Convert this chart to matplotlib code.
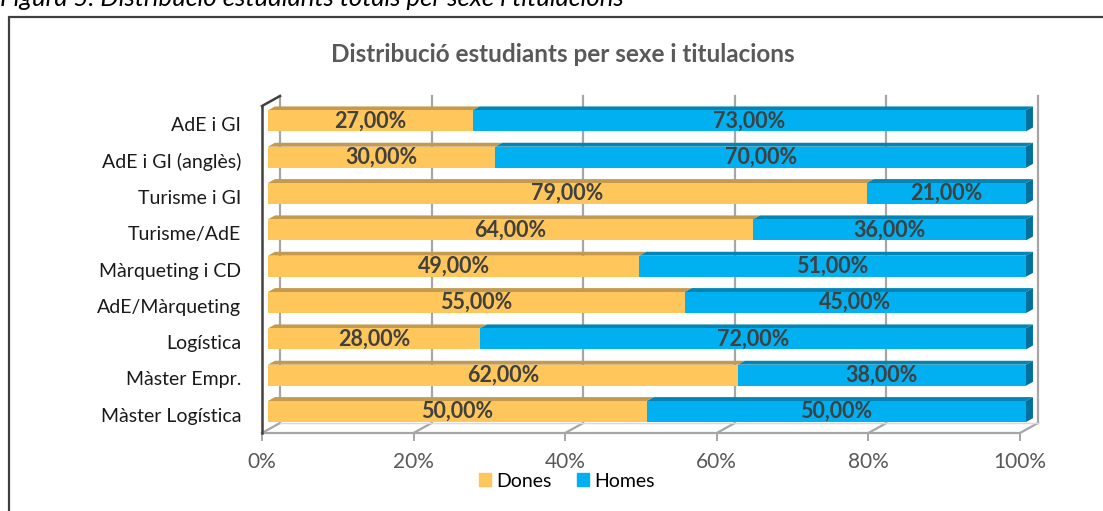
import matplotlib.pyplot as plt
from matplotlib.patches import Patch, Polygon, Rectangle

plt.rcParams['font.family'] = ['Lato', 'DejaVu Sans']

# dades
titulacions = ["AdE i GI", "AdE i GI (anglès)", "Turisme i GI", "Turisme/AdE",
               "Màrqueting i CD", "AdE/Màrqueting", "Logística", "Màster Empr.",
               "Màster Logística"]
dones = [27, 30, 79, 64, 49, 55, 28, 62, 50]
homes = [73, 70, 21, 36, 51, 45, 72, 38, 50]
xticks = [0, 20, 40, 60, 80, 100]

C_DONES = '#FFC65C'
C_DONES_TOP = '#C49A4E'
C_HOMES = '#00B0F0'
C_HOMES_TOP = '#0085B5'
C_HOMES_SIDE = '#00719C'
C_GRID = '#A6A6A6'

W, H = 1103, 511
fig = plt.figure(figsize=(W / 100, H / 100), dpi=100)
ax = fig.add_axes([262 / W, (H - 433) / H, 758 / W, 327 / H])
n = len(titulacions)
ax.set_xlim(0, 100)
ax.set_ylim(n - 0.5, -0.5)
for s in ax.spines.values():
    s.set_visible(False)

# fondaria de la perspectiva (unitats de dades)
DX = 18 / 758 * 100
DY = 10 / (327 / n)
t0, t1 = 0.33, 0.72   # barra dins la fondaria
bh = 0.58

# parets i terra
yb, yt = n - 0.5, -0.5
for v in xticks:
    ax.plot([v + DX, v + DX], [yb - DY, yt - DY], color=C_GRID, lw=1.6, zorder=1, clip_on=False)
    ax.plot([v, v + DX], [yb, yb - DY], color=C_GRID, lw=1.6, zorder=1, clip_on=False)
ax.plot([0, 100], [yb, yb], color=C_GRID, lw=1.6, zorder=1, clip_on=False)
ax.plot([DX, 100 + DX], [yb - DY, yb - DY], color='#D9D9D9', lw=1.0, zorder=1, clip_on=False)
ax.plot([0, 0], [yb, yt], color='#404040', lw=1.8, zorder=2, clip_on=False)
ax.plot([0, DX], [yt, yt - DY], color='#404040', lw=1.8, zorder=2, clip_on=False)

# barres 3D
ys = list(range(n))
for i in ys:
    for left, w, c, ctop in [(0, dones[i], C_DONES, C_DONES_TOP),
                             (dones[i], homes[i], C_HOMES, C_HOMES_TOP)]:
        ytop0 = i - t0 * DY - bh / 2
        ytop1 = i - t1 * DY - bh / 2
        top = Polygon([(left + t0 * DX, ytop0), (left + w + t0 * DX, ytop0),
                       (left + w + t1 * DX, ytop1), (left + t1 * DX, ytop1)],
                      closed=True, facecolor=ctop, edgecolor='none', zorder=3, clip_on=False)
        ax.add_patch(top)
    r = dones[i] + homes[i]
    ybot0 = i - t0 * DY + bh / 2
    ybot1 = i - t1 * DY + bh / 2
    ytop0 = i - t0 * DY - bh / 2
    ytop1 = i - t1 * DY - bh / 2
    side = Polygon([(r + t0 * DX, ytop0), (r + t1 * DX, ytop1),
                    (r + t1 * DX, ybot1), (r + t0 * DX, ybot0)],
                   closed=True, facecolor=C_HOMES_SIDE, edgecolor='none', zorder=3, clip_on=False)
    ax.add_patch(side)

yf = [y - t0 * DY for y in ys]
ax.barh(yf, dones, left=[t0 * DX] * n, height=bh, color=C_DONES, zorder=4, clip_on=False)
ax.barh(yf, homes, left=[d + t0 * DX for d in dones], height=bh, color=C_HOMES, zorder=4, clip_on=False)

for i in ys:
    for left, w in [(0, dones[i]), (dones[i], homes[i])]:
        ax.text(left + w / 2 + t0 * DX, yf[i], f"{w:.2f}%".replace('.', ','),
                ha='center', va='center', fontsize=15.5, fontweight='bold',
                color='#404040', zorder=5)

ax.set_yticks(ys)
ax.set_yticklabels(titulacions, fontsize=14, color='#1A1A1A')
ax.tick_params(axis='y', length=0, pad=15)
ax.set_xticks(xticks)
ax.set_xticklabels([f"{v}%" for v in xticks], fontsize=15, color='#595959')
ax.tick_params(axis='x', length=6, width=1.4, color=C_GRID, pad=8)

fig.text(563 / W, 1 - 54 / H, "Distribució estudiants per sexe i titulacions",
         ha='center', va='center', fontsize=17.5, fontweight='bold', color='#595959')

fig.legend(handles=[Patch(color=C_DONES, label='Dones'), Patch(color=C_HOMES, label='Homes')],
           loc='center', bbox_to_anchor=(567 / W, 1 - 481 / H), ncol=2, frameon=False,
           fontsize=14, handlelength=0.6, handleheight=0.6, handletextpad=0.3,
           columnspacing=1.3, borderpad=0)

# marc i peu de figura retallat
fig.patches.append(Rectangle((9 / W, -0.1), 1.2, 1 - 17 / H + 0.1, transform=fig.transFigure,
                             fill=False, edgecolor='#404040', lw=1.6))
fig.text(0 / W, 1 - 6 / H, "Figura 5. Distribució estudiants totals per sexe i titulacions",
         ha='left', va='baseline', fontsize=18.5, style='italic', color='#000000')

fig.savefig('out.png', dpi=100)
